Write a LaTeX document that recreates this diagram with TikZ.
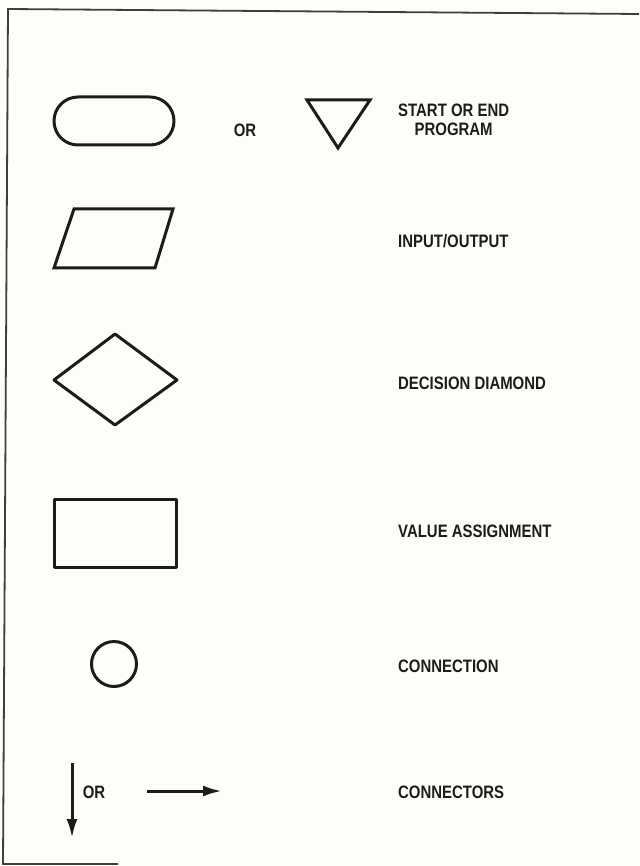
\documentclass[tikz,border=0pt]{standalone}
\usepackage{fontspec}
\usetikzlibrary{arrows.meta}
\newfontfamily\legendfont{Liberation Sans}[FakeStretch=0.83]
\definecolor{paper}{RGB}{253,254,250}
\definecolor{ink}{RGB}{28,30,22}

\begin{document}
\begin{tikzpicture}[x=1pt, y=-1pt,
    % --- Styles ---
    shape line/.style={draw=ink, line width=3pt, line join=round},
    % Labels set in a narrow bold sans
    label text/.style={font=\legendfont\bfseries\fontsize{18}{19}\selectfont, text=ink, align=center, inner sep=0pt},
    frame line/.style={draw=ink!85, line width=1.8pt},
    flow arrow/.style={draw=ink, line width=3pt, -{Latex[length=19pt,width=11pt]}}
]

%================CONFIGURATION================
% \xlab: left edge of the label column
\def\xlab{398}
%=============================================

\useasboundingbox (0,0) rectangle (639,866);
\fill[paper] (0,0) rectangle (639,866);

% --- Page frame ---
\coordinate (frameTL) at (8,9);
\coordinate (frameTR) at (639,14);
\coordinate (frameBL) at (3,864);
\coordinate (frameBR) at (118,864);
\draw[frame line] (frameTR) -- (frameTL) -- (frameBL) -- (frameBR);

% --- 1. Start or end ---
\node[shape line, rounded corners=24pt, minimum width=120pt, minimum height=48pt] (terminal) at (114,121) {};
\node[label text] (orTerm) at (245,130) {OR};
\coordinate (triL) at (307,100);
\coordinate (triR) at (370,100);
\coordinate (triB) at (338,148);
\draw[shape line, line join=miter] (triL) -- (triR) -- (triB) -- cycle;
\node[label text, anchor=west] (startEnd) at (\xlab,120) {START OR END\\PROGRAM};

% --- 2. Input/output ---
\coordinate (ioA) at (74,209);
\coordinate (ioB) at (173,209);
\coordinate (ioC) at (155,268);
\coordinate (ioD) at (54,268);
\draw[shape line, line join=miter] (ioA) -- (ioB) -- (ioC) -- (ioD) -- cycle;
\node[label text, anchor=west] (inOut) at (\xlab,241) {INPUT/OUTPUT};

% --- 3. Decision ---
\coordinate (decW) at (54,380);
\coordinate (decN) at (115,334);
\coordinate (decE) at (177,380);
\coordinate (decS) at (115,425);
\draw[shape line] (decW) -- (decN) -- (decE) -- (decS) -- cycle;
\node[label text, anchor=west] (decision) at (\xlab,383) {DECISION DIAMOND};

% --- 4. Value assignment ---
\node[shape line, minimum width=122pt, minimum height=68pt] (assign) at (115,533) {};
\node[label text, anchor=west] (valAssign) at (\xlab,531) {VALUE ASSIGNMENT};

% --- 5. Connection ---
\node[shape line, circle, minimum size=45pt, inner sep=0pt] (joint) at (114,664) {};
\node[label text, anchor=west] (connection) at (\xlab,666) {CONNECTION};

% --- 6. Connectors ---
\coordinate (downTop) at (72,763);
\coordinate (downEnd) at (72,838);
\draw[flow arrow] (downTop) -- (downEnd);
\node[label text] (orArrow) at (94,792) {OR};
\coordinate (rightStart) at (147,791);
\coordinate (rightEnd) at (222,791);
\draw[flow arrow] (rightStart) -- (rightEnd);
\node[label text, anchor=west] (connectors) at (\xlab,792) {CONNECTORS};

\end{tikzpicture}
\end{document}
